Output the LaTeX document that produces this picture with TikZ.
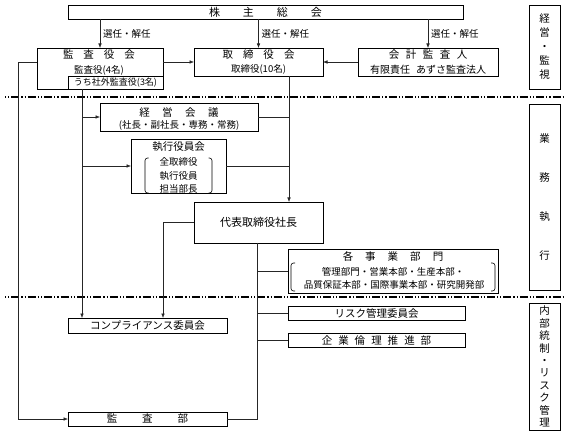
\documentclass[tikz,border=0pt]{standalone}
\usepackage{fontspec}
\setmainfont{Noto Sans CJK JP}
\usetikzlibrary{arrows.meta}
\newcommand\fs[2]{\fontsize{#1}{#2}\selectfont}
\newcommand\gp[1]{\hspace*{#1}}
\begin{document}
\begin{tikzpicture}[x=1pt,y=-1pt,
 box/.style={draw=black, line width=0.9pt, rectangle, inner sep=0pt, outer sep=0pt},
 txt/.style={inner sep=0pt, outer sep=0pt, text=black},
 conn/.style={draw=black!85, line width=0.6pt},
 arr/.style={conn, -{Latex[length=4.5pt,width=3.6pt]}},
 lbl/.style={txt, font=\fs{9.5}{11}, right=3pt},
 sepline/.style={line width=1.1pt, dash pattern=on 1.2pt off 2pt on 1.2pt off 2pt on 8pt off 2pt},
 brk/.style={line width=0.6pt, rounded corners=2.5pt}]
\useasboundingbox (0,0) rectangle (567,438);

% boxes
\node[box, minimum width=395, minimum height=14] (kabu) at (265.5,12) {};
\node[box, minimum width=126, minimum height=41] (kansayaku) at (100,68.5) {};
\node[box, minimum width=95, minimum height=13, font=\fs{9}{11}] (inner) at (115.5,82.5) {うち社外監査役(3名)};
\node[box, minimum width=129, minimum height=28] (tori) at (258.5,62) {};
\node[box, minimum width=140, minimum height=28] (kaikei) at (428,62) {};
\node[box, minimum width=158, minimum height=28] (keiei) at (179,117) {};
\node[box, minimum width=95, minimum height=54] (shikko) at (178.5,166) {};
\node[box, minimum width=129, minimum height=41, font=\fs{11}{13}] (daihyo) at (258.5,222.5) {代表取締役社長};
\node[box, minimum width=210, minimum height=44] (jigyo) at (393,271) {};
\node[box, minimum width=177, minimum height=14, font=\fs{10.5}{12}] (risk) at (376.5,313) {リスク管理委員会};
\node[box, minimum width=177, minimum height=14, font=\fs{10.5}{12}] (rinri) at (376.5,340) {企\gp{6pt}業\gp{6pt}倫\gp{6pt}理\gp{6pt}推\gp{6pt}進\gp{6pt}部};
\node[box, minimum width=159, minimum height=15, font=\fs{10.5}{12}] (comp) at (147.5,325.5) {コンプライアンス委員会};
\node[box, minimum width=159, minimum height=14, font=\fs{10.5}{12}] (kansabu) at (147.5,419) {監\gp{25pt}査\gp{25pt}部};
\node[box, minimum width=31, minimum height=84] (side1) at (544.5,47) {};
\node[box, minimum width=31, minimum height=186] (side2) at (544.5,197) {};
\node[box, minimum width=31, minimum height=127] (side3) at (544.5,366.5) {};

% texts
\node[txt, font=\fs{11}{13}] (t-kabu) at (265.5,12) {株\gp{23pt}主\gp{23pt}総\gp{23pt}会};
\node[txt, font=\fs{10.5}{12}] (t-ksy) at (99,55) {監\gp{10pt}査\gp{10pt}役\gp{10pt}会};
\node[txt, font=\fs{9.5}{11}] (t-ksy2) at (99,70) {監査役(4名)};
\node[txt, font=\fs{10.5}{12}] (t-tori) at (258.5,55) {取\gp{10pt}締\gp{10pt}役\gp{10pt}会};
\node[txt, font=\fs{9.5}{11}] (t-tori2) at (258.5,69.5) {取締役(10名)};
\node[txt, font=\fs{10.5}{12}] (t-kk) at (428,55) {会\gp{6.5pt}計\gp{6.5pt}監\gp{6.5pt}査\gp{6.5pt}人};
\node[txt, font=\fs{10}{11}] (t-kk2) at (428,69.5) {有限責任\gp{6pt}あずさ監査法人};
\node[txt, font=\fs{10.5}{12}] (t-keiei) at (179,112.5) {経\gp{12.5pt}営\gp{12.5pt}会\gp{12.5pt}議};
\node[txt, font=\fs{9.5}{11}] (t-keiei2) at (179,125) {(社長・副社長・専務・常務)};
\node[txt, font=\fs{10.5}{12}] (t-sk) at (178.5,147) {執行役員会};
\node[txt, font=\fs{9.5}{11}] (t-sk1) at (178.5,162) {全取締役};
\node[txt, font=\fs{9.5}{11}] (t-sk2) at (178.5,176) {執行役員};
\node[txt, font=\fs{9.5}{11}] (t-sk3) at (178.5,189) {担当部長};
\node[txt, font=\fs{10.5}{12}] (t-jg) at (393,256) {各\gp{12pt}事\gp{12pt}業\gp{12pt}部\gp{12pt}門};
\node[txt, font=\fs{9.5}{11}] (t-jg2) at (393,272) {管理部門・営業本部・生産本部・};
\node[txt, font=\fs{9.5}{11}] (t-jg3) at (394,285) {品質保証本部・国際事業本部・研究開発部};
\node[txt, align=center, font=\fs{10.5}{14}] (t-s1) at (side1) {経\\営\\・\\監\\視};
\node[txt, align=center, font=\fs{10.5}{39}] (t-s2) at (side2) {業\\務\\執\\行};
\node[txt, align=center, font=\fs{10.5}{12.4}] (t-s3) at (side3) {内\\部\\統\\制\\・\\リ\\ス\\ク\\管\\理};

% brackets
\draw[brk] (148.5,158) -- (145,158) -- (145,193) -- (148.5,193);
\draw[brk] (208.5,158) -- (212,158) -- (212,193) -- (208.5,193);
\draw[brk] (295,263) -- (291,263) -- (291,291) -- (295,291);
\draw[brk] (491,263) -- (495,263) -- (495,291) -- (491,291);

% separator lines
\coordinate (s1a) at (5,97); \coordinate (s1b) at (564,97);
\coordinate (s2a) at (5,297); \coordinate (s2b) at (564,297);
\draw[sepline] (s1a) -- (s1b);
\draw[sepline] (s2a) -- (s2b);

% connector columns
\coordinate (cA) at (18,0);
\coordinate (cB) at (82,0);
\coordinate (cC) at (163,0);
\coordinate (cD) at (257,0);
\coordinate (cE) at (289,0);

% from shareholders
\draw[arr] (kansayaku.north |- kabu.south) -- node[lbl] {選任・解任} (kansayaku.north);
\draw[arr] (tori.north |- kabu.south) -- node[lbl] {選任・解任} (tori.north);
\draw[arr] (kaikei.north |- kabu.south) -- node[lbl] {選任・解任} (kaikei.north);

\draw[arr] (tori.west -| kansayaku.east) -- (tori.west);
\draw[arr] (kaikei.west) -- (tori.east);

% audit board lines
\draw[arr] (kansayaku.west |- tori.west) -| (cA |- kansabu.west) -- (kansabu.west);
\draw[arr] (cB |- inner.south) -- (cB |- comp.north);
\draw[arr] (cB |- keiei.west) -- (keiei.west);
\draw[arr] (cB |- shikko.west) -- (shikko.west);

% board to president
\draw[arr] (cE |- tori.south) -- (cE |- daihyo.north);
\draw[conn] (keiei.east) -- (cE |- keiei.east);
\draw[conn] (shikko.east) -- (cE |- shikko.east);

% president
\draw[arr] (daihyo.west) -| (cC |- comp.north);
\draw[conn] (cD |- daihyo.south) |- (kansabu.east);
\draw[conn] (cD |- jigyo.west) -- (jigyo.west);
\draw[conn] (cD |- risk.west) -- (risk.west);
\draw[conn] (cD |- rinri.west) -- (rinri.west);
\end{tikzpicture}
\end{document}
